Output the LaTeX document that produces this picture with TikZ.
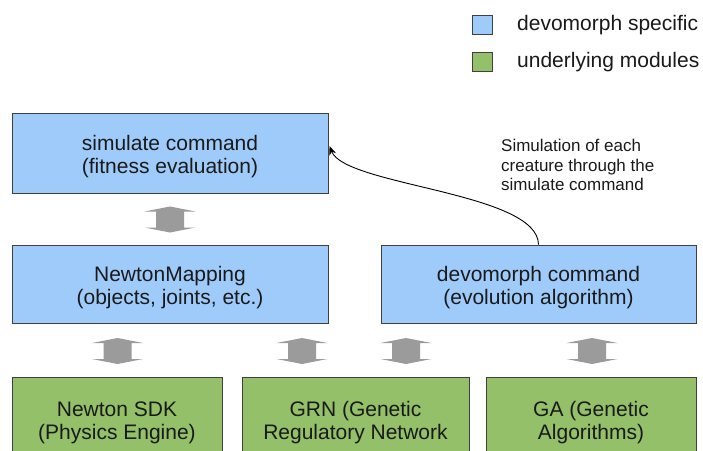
\documentclass[tikz,border=0pt]{standalone}
\usepackage{fontspec}
\setmainfont{Liberation Sans}
\usetikzlibrary{arrows.meta}
\definecolor{dmblue}{HTML}{9FCBFB}
\definecolor{ulgreen}{HTML}{93C068}
\definecolor{edgegray}{HTML}{404040}
\definecolor{arrowgray}{HTML}{9B9B9B}
\definecolor{txt}{HTML}{1A1A1A}
\tikzset{
  box/.style={draw=edgegray, line width=0.9pt, inner sep=0pt},
  boxtxt/.style={align=center, inner sep=0pt, yshift=-3.5pt,
    font=\fontsize{21}{23}\selectfont, text=txt},
  bluebox/.style={box, fill=dmblue},
  greenbox/.style={box, fill=ulgreen},
  legsq/.style={draw=edgegray, line width=0.9pt, minimum width=20pt, minimum height=19pt, inner sep=0pt},
  legtxt/.style={anchor=west, inner sep=0pt, yshift=-1.5pt, font=\fontsize{21}{23}\selectfont, text=txt},
  dbl/.pic={\fill[arrowgray] (0,-13) -- (25.5,-8) -- (14,-8) -- (14,8) -- (25.5,8) -- (0,13)
     -- (-25.5,8) -- (-14,8) -- (-14,-8) -- (-25.5,-8) -- cycle;},
  link/.style={black, line width=0.9pt, -{Stealth[length=9pt,width=7pt]}}
}
\begin{document}
\begin{tikzpicture}[x=1pt,y=-1pt]
\clip (0,0) rectangle (703,450);
\useasboundingbox (0,0) rectangle (703,450);
\fill[white] (0,0) rectangle (703,450);
% legend
\node[legsq, fill=dmblue] (l1) at (482,24.5) {};
\node[legsq, fill=ulgreen] (l2) at (482,61.5) {};
\node[legtxt] (l1t) at (517,24) {devomorph specific};
\node[legtxt] (l2t) at (517,61) {underlying modules};
% blue boxes
\node[bluebox, minimum width=316pt, minimum height=80pt,
  label={[boxtxt]center:{simulate command\\(fitness evaluation)}}] (sim) at (170,153) {};
\node[bluebox, minimum width=316pt, minimum height=78pt,
  label={[boxtxt]center:{NewtonMapping\\(objects, joints, etc.)}}] (nm) at (170,284) {};
\node[bluebox, minimum width=315pt, minimum height=78pt,
  label={[boxtxt]center:{devomorph command\\(evolution algorithm)}}] (dev) at (538.5,284) {};
% green boxes
\node[greenbox, minimum width=210pt, minimum height=84pt,
  label={[boxtxt]center:{Newton SDK\\(Physics Engine)}}] (sdk) at (117,419) {};
\node[greenbox, minimum width=227pt, minimum height=84pt,
  label={[boxtxt]center:{GRN (Genetic\\Regulatory Network}}] (grn) at (355.5,419) {};
\node[greenbox, minimum width=210pt, minimum height=84pt,
  label={[boxtxt]center:{GA (Genetic\\Algorithms)}}] (ga) at (591,419) {};
% double arrows
\pic at (170,219.5) {dbl};
\pic at (117.5,351) {dbl};
\pic at (302,351) {dbl};
\pic at (406,351) {dbl};
\pic at (592,351) {dbl};
% curved connector
\coordinate (tip) at (329.5,146);
\draw[link] (dev.north) .. controls (538,192) and (345,186) .. (tip);
\node[anchor=west, inner sep=0pt, align=left, font=\fontsize{17}{19.5}\selectfont, text=txt] (cap) at (501,165)
  {Simulation of each\\creature through the\\simulate command};
\end{tikzpicture}
\end{document}
